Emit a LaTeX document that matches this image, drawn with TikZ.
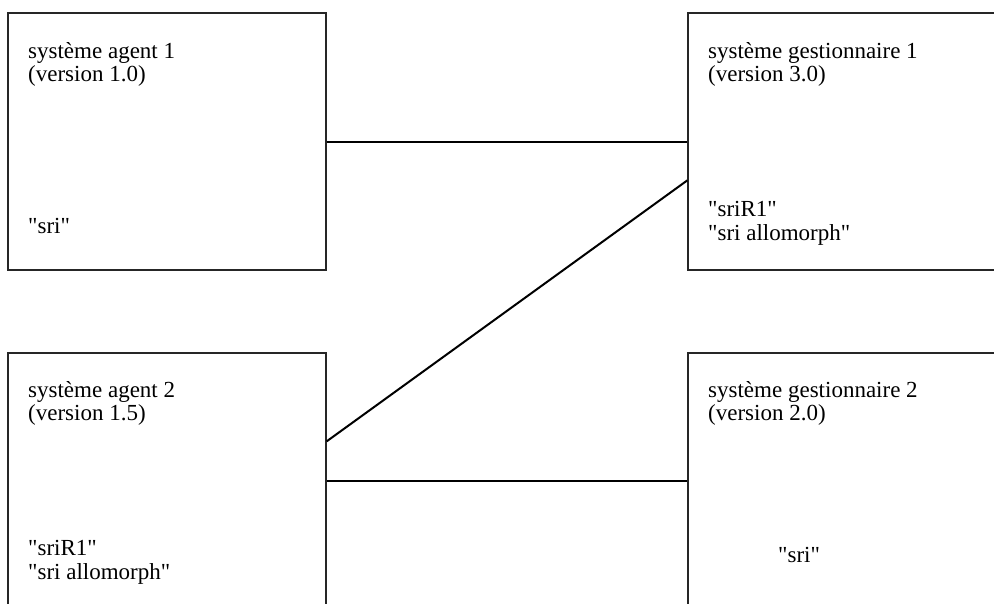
\documentclass[tikz,border=0pt]{standalone}
\usepackage{fontspec}
\setmainfont{Liberation Serif}[Ligatures=TeXOff]
\newcommand{\qq}{\symbol{34}}
\begin{document}
\begin{tikzpicture}[x=1pt,y=-1pt,
  boxframe/.style={draw=black!85,line width=1.3pt,rectangle,inner sep=0pt},
  label/.style={anchor=base west,inner sep=0pt,font=\fontsize{23}{26}\selectfont},
  link/.style={draw=black,line width=2pt}]
\useasboundingbox (0,0) rectangle (994,603);
\clip (0,0) rectangle (994,603);
% boxes
\node[boxframe,minimum width=318pt,minimum height=257pt] (tl) at (167,141.5) {};
\node[boxframe,minimum width=412pt,minimum height=257pt] (tr) at (894,141.5) {};
\node[boxframe,minimum width=318pt,minimum height=347pt] (bl) at (167,526.5) {};
\node[boxframe,minimum width=412pt,minimum height=347pt] (br) at (894,526.5) {};
% texts
\node[label] (t1) at (28,58) {système agent 1};
\node[label] (t2) at (28,81) {(version 1.0)};
\node[label] (t3) at (28,233) {\qq sri\qq};
\node[label] (r1) at (708,58) {système gestionnaire 1};
\node[label] (r2) at (708,81) {(version 3.0)};
\node[label] (r3) at (708,216) {\qq sriR1\qq};
\node[label] (r4) at (708,240) {\qq sri allomorph\qq};
\node[label] (b1) at (28,397) {système agent 2};
\node[label] (b2) at (28,420) {(version 1.5)};
\node[label] (b3) at (28,555) {\qq sriR1\qq};
\node[label] (b4) at (28,579) {\qq sri allomorph\qq};
\node[label] (s1) at (708,397) {système gestionnaire 2};
\node[label] (s2) at (708,420) {(version 2.0)};
\node[label] (s3) at (778,562) {\qq sri\qq};
% connectors
\coordinate (c1) at ([yshift=-130pt]tl.north east);
\draw[link] (c1) -- (c1 -| tr.west);
\draw[link] ([yshift=-89pt]bl.north east) -- ([yshift=-168pt]tr.north west);
\coordinate (c2) at ([yshift=-129pt]bl.north east);
\draw[link] (c2) -- (c2 -| br.west);
\end{tikzpicture}
\end{document}
